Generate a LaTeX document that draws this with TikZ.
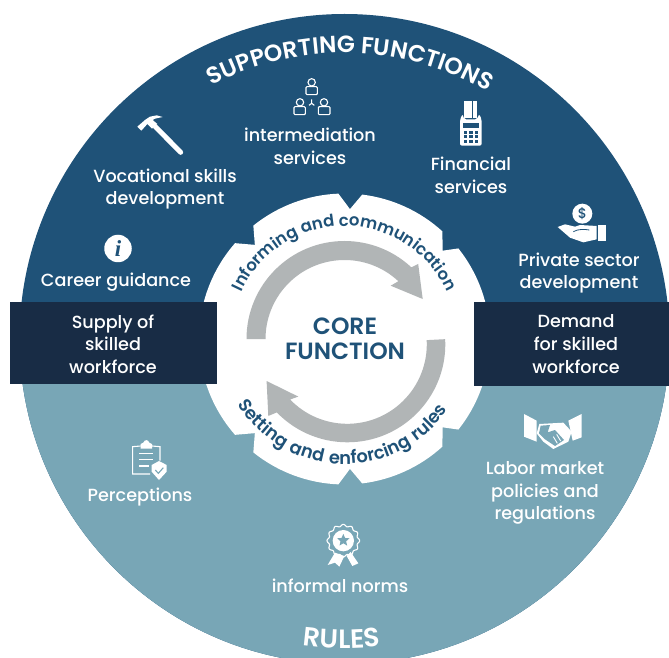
\documentclass[tikz,border=0pt]{standalone}
\usepackage{fontspec}
\usetikzlibrary{decorations.text,shapes.geometric}
\setmainfont{Poppins}[UprightFont=* Medium,BoldFont=* SemiBold]
\newfontfamily\infofont{Liberation Serif}
\newfontfamily\spacedfont{Poppins}[UprightFont=* SemiBold,LetterSpace=8]
\definecolor{topblue}{HTML}{1F5278}
\definecolor{lowteal}{HTML}{78A6B6}
\definecolor{bandnavy}{HTML}{182C45}
\definecolor{arrowgray}{HTML}{B1B5B6}
\newcommand{\titlefont}{\fontsize{23.5}{26}\selectfont\bfseries\color{white}}
\newcommand{\rulesfont}{\fontsize{26.5}{28}\selectfont\bfseries\color{white}}
\newcommand{\ringfont}{\fontsize{16.5}{20}\selectfont\bfseries\color{topblue}}
\newcommand{\lowringfont}{\fontsize{17.8}{20}\selectfont\spacedfont\color{topblue}}
\tikzset{
  lbl/.style={text=white,align=center,inner sep=0pt,font=\fontsize{17.6}{22.7}\selectfont},
  corelbl/.style={text=topblue,align=center,inner sep=0pt,font=\fontsize{23.5}{25}\selectfont\bfseries},
  icon/.style={shift={#1},xscale=1/3,yscale=-1/3}
}
\begin{document}
\begin{tikzpicture}[x=1pt,y=1pt]
    \useasboundingbox (0,0) rectangle (669,657);
    \clip (0,0) rectangle (669,657);
    \coordinate (centre) at (344.5,318);

    % Outer disc
    \fill[topblue] (centre) circle[radius=325];
    \fill[lowteal] (centre) ++(180:325) arc[start angle=180,end angle=360,radius=325] -- cycle;

    % Core gear
    \begin{scope}[shift={(centre)}]
        \fill[white] (164.7:145.5) arc[start angle=164.7,end angle=138.8,radius=145.5]
            -- (133.6:130) -- (128.8:145.5) arc[start angle=128.8,end angle=92.4,radius=145.5]
            -- (87.6:130) -- (83:145.5) arc[start angle=83,end angle=47.7,radius=145.5]
            -- (42:132) -- (38.5:145.5) arc[start angle=38.5,end angle=-38.5,radius=145.5]
            -- (-42:132) -- (-47.7:145.5) arc[start angle=-47.7,end angle=-83,radius=145.5]
            -- (-87.6:130) -- (-92.4:145.5) arc[start angle=-92.4,end angle=-128.8,radius=145.5]
            -- (-133.6:130) -- (-138.8:145.5) arc[start angle=-138.8,end angle=-195.3,radius=145.5]
            -- cycle;

        % Upper cycle arrow
        \fill[arrowgray] (180:98) arc[start angle=180,end angle=47,radius=98]
            -- (73.7,75) -- (78.2,40) -- (46.2,53.3)
            -- (47:79) arc[start angle=47,end angle=180,radius=79] -- cycle;

        % Ring texts
        \path[decorate,decoration={text along path,text align=center,
            text={|\ringfont|Informing and communication}}]
            (156:113) arc[start angle=156,end angle=24,radius=113];
        \path[decorate,decoration={text along path,text align=center,
            text={|\lowringfont|Setting and enforcing rules}}]
            (190:125) arc[start angle=190,end angle=347,radius=125];

        % Outer titles
        \path[decorate,decoration={text along path,text align=center,
            text={|\titlefont|SUPPORTING FUNCTIONS}}]
            (125:286) arc[start angle=125,end angle=52.5,radius=286];
        \path[decorate,decoration={text along path,text align=center,
            text={|\rulesfont|RULES}}]
            (255:309) arc[start angle=255,end angle=284,radius=309];
    \end{scope}

    % Lower cycle arrow
    \begin{scope}[shift={(347.3,312.7)}]
        \fill[arrowgray] (3:98) arc[start angle=3,end angle=-136,radius=98]
            -- (-79,-71.7) -- (-80.7,-36.7) -- (-49,-52.3)
            -- (-136:79.5) arc[start angle=-136,end angle=3,radius=79.5] -- cycle;
    \end{scope}

    % Side bands
    \fill[bandnavy] (10,273) rectangle (217,355);
    \fill[bandnavy] (474,271) rectangle (669,355);

    % Labels
    \node[corelbl] (core) at (345,318.5) {CORE\\FUNCTION};
    \node[lbl] (supply) at (113,313) {Supply of\\skilled\\workforce};
    \node[lbl] (demand) at (576,313) {Demand\\for skilled\\workforce};
    \node[lbl] (vocational) at (165,468) {Vocational skills\\development};
    \node[lbl] (intermediation) at (310,511) {intermediation\\services};
    \node[lbl] (financial) at (471,481.5) {Financial\\services};
    \node[lbl] (private) at (579,384) {Private sector\\development};
    \node[lbl] (career) at (116,375) {Career guidance};
    \node[lbl] (perceptions) at (140,160) {Perceptions};
    \node[lbl] (labor) at (545,164) {Labor market\\policies and\\regulations};
    \node[lbl] (norms) at (340,71) {informal norms};

    % Hammer
    \begin{scope}[icon={(120,557)}]
        \fill[white] (52,80) -- (75,60) -- (90,50) -- (110,46) -- (128,51) -- (105,56)
            -- (98,60) -- (112,72) -- (96,86) -- (82,72) -- (64,92) -- cycle;
        \draw[white,line width=5pt,line cap=round] (106,80) -- (182,157);
    \end{scope}

    % People
    \begin{scope}[icon={(120,637)},white,line width=1.1pt]
        \draw (575,187) circle[radius=11];
        \draw[rounded corners=1pt] (558,224) rectangle (592,200);
        \draw (540,247) circle[radius=11];
        \draw[rounded corners=1pt] (522,284) rectangle (556,260);
        \draw (612,247) circle[radius=11];
        \draw[rounded corners=1pt] (595,284) rectangle (630,260);
        \draw (575,238) -- (575,250) -- (567,256);
        \draw (575,250) -- (583,256);
    \end{scope}

    % Card terminal
    \begin{scope}[icon={(440,567)}]
        \fill[white] (72,32) rectangle (95,85);
        \fill[white] (98,32) rectangle (110,85);
        \fill[white,rounded corners=2pt] (60,167) -- (60,88) -- (68,72) -- (72,88) -- (112,88)
            -- (117,72) -- (125,88) -- (125,167) -- cycle;
        \fill[topblue] (68,98) rectangle (118,115);
        \foreach \x in {72,88,104}
            \foreach \y in {122,136,150}
                \fill[topblue] (\x,\y) rectangle ++(10,9);
    \end{scope}

    % Hand with coin
    \begin{scope}[icon={(520,467)}]
        \fill[white] (187,71) circle[radius=30];
        \node[text=topblue,inner sep=0pt,font=\fontsize{14}{14}\selectfont] (dollar) at (187,71) {\$};
        \fill[white] (235,105) rectangle (258,152);
        \fill[white] (113,111) -- (135,103) -- (165,110) -- (180,105) -- (230,108)
            -- (230,148) -- (190,157) -- (150,143) -- cycle;
        \draw[topblue,line width=0.8pt] (160,125) .. controls (175,116) and (195,118) .. (208,120);
    \end{scope}

    % Info badge
    \node[circle,fill=white,text=topblue,minimum size=27.5pt,inner sep=0pt,
        font=\fontsize{23}{23}\selectfont\infofont\bfseries\itshape] (info) at (118,408.5) {i};

    % Clipboard with shield
    \begin{scope}[icon={(100,257)},white,line width=1.1pt]
        \draw (122,138) -- (98,140) -- (98,222) -- (150,222);
        \draw (156,138) -- (180,140) -- (180,182);
        \fill (122,146) -- (122,132) -- (130,128) .. controls (133,118) and (145,118) .. (148,128)
            -- (156,132) -- (156,146) -- cycle;
        \draw (118,160) -- (160,160);
        \draw (118,178) -- (160,178);
        \draw (118,198) -- (146,198);
        \fill (177,183) -- (200,195) -- (200,215) -- (177,240) -- (155,215) -- (155,195) -- cycle;
        \draw[lowteal] (166,210) -- (175,220) -- (190,203);
    \end{scope}

    % Award
    \begin{scope}[icon={(100,257)},white]
        \draw[line width=1.1pt] plot[domain=0:360,samples=145,smooth]
            ({730+(46+3*cos(12*\x))*cos(\x)},{422+(46+3*cos(12*\x))*sin(\x)});
        \fill (730,422) circle[radius=32];
        \node[star,star points=5,star point ratio=2.2,fill=lowteal,minimum size=13pt,inner sep=0pt] (awardstar) at (730,421) {};
        \fill (705,458) -- (683,495) -- (705,488) -- (718,500) -- (733,468) -- cycle;
        \fill (740,468) -- (757,498) -- (775,490) -- (752,456) -- cycle;
    \end{scope}

    % Handshake
    \begin{scope}[icon={(500,257)}]
        \fill[white] (72,42) -- (110,62) -- (110,125) -- (72,110) -- cycle;
        \fill[white] (245,42) -- (205,62) -- (218,122) -- (245,112) -- cycle;
        \fill[white] (118,72) -- (190,68) -- (215,95) -- (205,125) -- (160,147) -- (130,125) -- (110,100) -- cycle;
        \fill[lowteal] (122,77) -- (150,75) -- (143,97) -- (165,90) -- (192,120) -- (165,138) -- (135,118) -- (117,100) -- cycle;
        \draw[white,line width=0.9pt] (160,110) -- (172,130);
        \draw[white,line width=0.9pt] (170,103) -- (182,123);
    \end{scope}
\end{tikzpicture}
\end{document}
